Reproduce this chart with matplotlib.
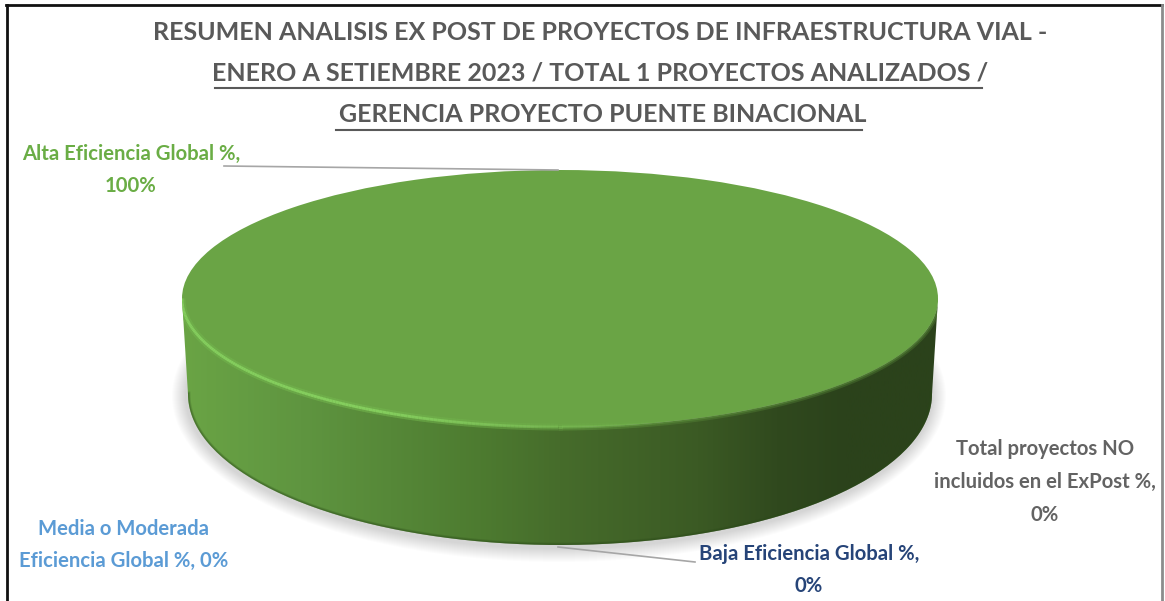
import numpy as np
import matplotlib
matplotlib.use('Agg')
import matplotlib.pyplot as plt
from matplotlib.patches import Ellipse, PathPatch
from matplotlib.path import Path
from matplotlib.collections import LineCollection
from matplotlib.colors import LinearSegmentedColormap

categories = ['Alta Eficiencia Global %', 'Media o Moderada Eficiencia Global %',
              'Baja Eficiencia Global %', 'Total proyectos NO incluidos en el ExPost %']
values = [100, 0, 0, 0]
slice_colors = ['#6aa445', '#5b9bd5', '#264478', '#636363']
title_lines = ['RESUMEN ANALISIS EX POST DE PROYECTOS DE INFRAESTRUCTURA VIAL -',
               'ENERO A SETIEMBRE 2023 / TOTAL 1 PROYECTOS ANALIZADOS /',
               'GERENCIA PROYECTO PUENTE BINACIONAL']

plt.rcParams['font.family'] = ['Lato', 'DejaVu Sans']

W, H = 1165, 601
fig = plt.figure(figsize=(W / 100, H / 100), dpi=100, facecolor='white')

# ellipse sizes in pixels
cx, top_y, a, b = 560, 298.5, 378, 128.5
low_y, low_a, low_b = 394, 372, 151

# soft shadow goes in a bottom axes so the pie covers it
bg = fig.add_axes([0, 0, 1, 1], zorder=0)
bg.set_xlim(0, W)
bg.set_ylim(H, 0)
bg.axis('off')
for k in range(14):
    bg.add_patch(Ellipse((cx - 1, low_y + 2), 2 * (low_a + 15 - k), 2 * (low_b + 15 - k),
                         fc='#000000', ec='none', alpha=0.011))

# top face, real pie in its own axes, under the shading axes
pie_ax = fig.add_axes([(cx - a) / W, 1 - (top_y + b) / H, 2 * a / W, 2 * b / H], zorder=1)
pie_ax.pie(values, colors=slice_colors, startangle=90, counterclock=False, radius=1)
pie_ax.set_aspect('auto')
pie_ax.set_xlim(-1, 1)
pie_ax.set_ylim(-1, 1)
pie_ax.patch.set_alpha(0)

ax = fig.add_axes([0, 0, 1, 1], zorder=2)
ax.set_xlim(0, W)
ax.set_ylim(H, 0)
ax.axis('off')

# side wall with left-right gradient
t = np.linspace(0, np.pi, 160)
lower = np.column_stack([cx + low_a * np.cos(t), low_y + low_b * np.sin(t)])
upper = np.column_stack([cx - a * np.cos(t), top_y + b * np.sin(t)])
verts = np.vstack([[cx + a, top_y], lower, [cx - a, top_y], upper])
side = PathPatch(Path(verts), fc='none', ec='none')
ax.add_patch(side)
side_cmap = LinearSegmentedColormap.from_list('side', [(0, '#6aa445'), (0.156, '#5f9540'), (0.394, '#4d7b30'),
                                                       (0.5, '#466c2b'), (0.685, '#3b5a24'), (0.79, '#30491e'),
                                                       (0.88, '#2b421b'), (1, '#2b421b')])
grad = np.linspace(0, 1, 400).reshape(1, -1)
im = ax.imshow(grad, cmap=side_cmap, extent=[cx - a, cx + a, H, 0], aspect='auto', zorder=2)
im.set_clip_path(side)
ax.set_xlim(0, W)
ax.set_ylim(H, 0)

# dark blur along the bottom edge of the wall
for lw, al in [(3.5, 0.22), (2, 0.35)]:
    line, = ax.plot(lower[:, 0], lower[:, 1], color='#2a4a18', lw=lw, alpha=al, zorder=3)
    line.set_clip_path(side)

# outline of the whole disc, keeps the rim lines inside
top_half = np.column_stack([cx - a * np.cos(t), top_y - b * np.sin(t)])
outer = PathPatch(Path(np.vstack([top_half, lower])), fc='none', ec='none')
ax.add_patch(outer)

# soft step between wall and top face
t2 = np.linspace(0.0, np.pi, 300)
edge = np.column_stack([cx + a * np.cos(t2), top_y + b * np.sin(t2)])
for lw, al in [(5, 0.25), (2.5, 0.35)]:
    line, = ax.plot(edge[:, 0], edge[:, 1], color='#6aa445', lw=lw, alpha=al, zorder=3, solid_capstyle='butt')
    line.set_clip_path(outer)

# bright bevel on the front of the top face, fades out to the right
segs = np.stack([edge[:-1], edge[1:]], axis=1)
fade = np.clip((680 - segs[:, 0, 0]) / 300, 0, 1)
for lw, col, al in [(5, '#74b84f', 0.5), (2, '#86d05f', 0.95)]:
    cols = np.tile(matplotlib.colors.to_rgba(col), (len(segs), 1))
    cols[:, 3] = al * fade
    rim = LineCollection(segs, colors=cols, linewidths=lw, zorder=4, capstyle='butt')
    ax.add_collection(rim)
    rim.set_clip_path(outer)

# leader lines
ax.plot([224, 558], [166, 170], color='#a6a6a6', lw=1.2, zorder=5)
ax.plot([558, 695], [547, 562], color='#a6a6a6', lw=1.2, zorder=5)

# title
title_y = [32, 73, 115]
title_x = [600, 600, 603]
for s, x, y in zip(title_lines, title_x, title_y):
    ax.text(x, y, s, ha='center', va='center', fontsize=18, fontweight='bold', color='#595959')
ax.plot([215, 982], [88, 88], color='#595959', lw=1.5)
ax.plot([336, 862], [130, 130], color='#595959', lw=1.5)

# data labels
lab_fs = 14.6
lab_sp = 1.8
ax.text(131, 170, 'Alta Eficiencia Global %,\n100%', ha='center', va='center', fontsize=lab_fs,
        fontweight='bold', color='#6aad45', linespacing=lab_sp)
ax.text(124, 545, 'Media o Moderada\nEficiencia Global %, 0%', ha='center', va='center', fontsize=lab_fs,
        fontweight='bold', color='#5b9bd5', linespacing=lab_sp)
ax.text(809, 570, 'Baja Eficiencia Global %,\n0%', ha='center', va='center', fontsize=lab_fs,
        fontweight='bold', color='#264478', linespacing=lab_sp)
ax.text(1045, 482, 'Total proyectos NO\nincluidos en el ExPost %,\n0%', ha='center', va='center', fontsize=lab_fs,
        fontweight='bold', color='#636363', linespacing=lab_sp)

# frame of the screenshot
ax.plot([7, 7], [H, 5], color='#111111', lw=2, zorder=6)
ax.plot([6, 1162], [5, 5], color='#111111', lw=2, zorder=6)
ax.plot([1162, 1162], [5, H], color='#8c8c8c', lw=2, zorder=6)

plt.savefig('out.png', dpi=100)
